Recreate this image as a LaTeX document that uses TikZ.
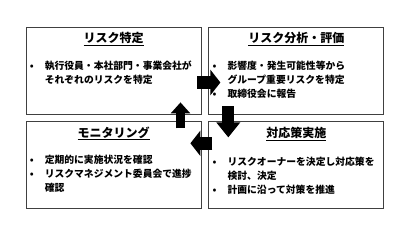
\documentclass[tikz,border=0pt]{standalone}
\usepackage{fontspec}
\setmainfont{Noto Sans CJK JP}
\usetikzlibrary{arrows.meta,positioning}
\tikzset{
  stepbox/.style={draw=black!75, line width=0.8pt, minimum width=175pt,
                  minimum height=87pt, inner sep=0pt},
  ttl/.style={font=\fontsize{12}{14}\selectfont\bfseries, inner sep=0pt},
  body/.style={font=\fontsize{9.8}{14}\selectfont\bfseries, align=left,
               inner sep=0pt, anchor=north west},
  blockarr/.style={line width=13pt, -{Triangle[length=10pt,width=25pt]}}
}
\newcommand{\itm}{\makebox[15pt][l]{•}}
\newcommand{\cont}{\hspace*{15pt}}

\begin{document}
\begin{tikzpicture}[x=1pt, y=-1pt, node distance=7pt]
\useasboundingbox (0,0) rectangle (407,235);
% four boxes
\node[stepbox] (ident) at (113.5,70.5) {};
\node[stepbox, right=of ident] (anal) {};
\node[stepbox, below=of ident] (moni) {};
\node[stepbox, below=of anal] (resp) {};
% titles
\node[ttl] (identT) at ([yshift=-12pt]ident.north) {\underline{リスク特定}};
\node[ttl] (analT) at ([yshift=-12pt]anal.north) {\underline{リスク分析・評価}};
\node[ttl] (moniT) at ([yshift=-12pt]moni.north) {\underline{モニタリング}};
\node[ttl] (respT) at ([yshift=-13pt]resp.north) {\underline{対応策実施}};
% bullet texts
\node[body] (identB) at ([xshift=4pt,yshift=-34pt]ident.north west)
  {\itm 執行役員・本社部門・事業会社が\\ \cont それぞれのリスクを特定};
\node[body] (analB) at ([xshift=4pt,yshift=-34pt]anal.north west)
  {\itm 影響度・発生可能性等から\\ \cont グループ重要リスクを特定\\ \itm 取締役会に報告};
\node[body] (moniB) at ([xshift=4pt,yshift=-34pt]moni.north west)
  {\itm 定期的に実施状況を確認\\ \itm リスクマネジメント委員会で進捗\\ \cont 確認};
\node[body] (respB) at ([xshift=4pt,yshift=-35pt]resp.north west)
  {\itm リスクオーナーを決定し対応策を\\ \cont 検討、決定\\ \itm 計画に沿って対策を推進};
% cycle arrows
\draw[blockarr] ([xshift=-4pt,yshift=-12pt]ident.east) -- ([xshift=12pt,yshift=-12pt]anal.west);
\draw[blockarr, line width=12pt, -{Triangle[length=15pt,width=23pt]}]
  ([xshift=-68pt,yshift=8pt]anal.south) -- ([xshift=-68pt,yshift=-16pt]resp.north);
\draw[blockarr] ([xshift=4pt,yshift=22pt]resp.west) -- ([xshift=-11pt,yshift=22pt]moni.east);
\draw[blockarr, line width=9pt, -{Triangle[length=11pt,width=19pt]}]
  ([xshift=67pt,yshift=-7pt]moni.north) -- ([xshift=67pt,yshift=12pt]ident.south);
\end{tikzpicture}
\end{document}
